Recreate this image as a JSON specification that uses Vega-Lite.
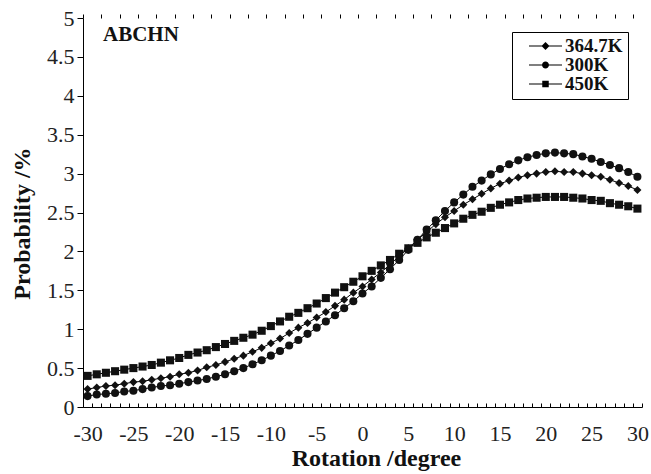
{
  "$schema": "https://vega.github.io/schema/vega-lite/v6.json",
  "width": 559,
  "height": 389,
  "autosize": {"type": "none"},
  "padding": {"left": 83, "top": 18, "right": 9, "bottom": 67},
  "background": "white",
  "title": {
    "text": "ABCHN",
    "anchor": "start",
    "frame": "group",
    "offset": 0,
    "dx": 20,
    "dy": 55,
    "baseline": "alphabetic",
    "font": "Liberation Serif",
    "fontSize": 21,
    "fontWeight": "bold",
    "color": "#111"
  },
  "config": {
    "font": "Liberation Serif",
    "view": {"stroke": null},
    "axis": {"grid": false}
  },
  "data": {
    "values": [
      {"deg": -30, "series": "364.7K", "p": 0.23}, {"deg": -29, "series": "364.7K", "p": 0.25}, {"deg": -28, "series": "364.7K", "p": 0.27}, {"deg": -27, "series": "364.7K", "p": 0.28}, {"deg": -26, "series": "364.7K", "p": 0.30}, {"deg": -25, "series": "364.7K", "p": 0.32}, {"deg": -24, "series": "364.7K", "p": 0.33}, {"deg": -23, "series": "364.7K", "p": 0.35}, {"deg": -22, "series": "364.7K", "p": 0.37}, {"deg": -21, "series": "364.7K", "p": 0.39}, {"deg": -20, "series": "364.7K", "p": 0.42}, {"deg": -19, "series": "364.7K", "p": 0.44}, {"deg": -18, "series": "364.7K", "p": 0.47}, {"deg": -17, "series": "364.7K", "p": 0.51}, {"deg": -16, "series": "364.7K", "p": 0.54}, {"deg": -15, "series": "364.7K", "p": 0.58}, {"deg": -14, "series": "364.7K", "p": 0.62}, {"deg": -13, "series": "364.7K", "p": 0.66}, {"deg": -12, "series": "364.7K", "p": 0.71}, {"deg": -11, "series": "364.7K", "p": 0.76}, {"deg": -10, "series": "364.7K", "p": 0.82}, {"deg": -9, "series": "364.7K", "p": 0.88}, {"deg": -8, "series": "364.7K", "p": 0.95}, {"deg": -7, "series": "364.7K", "p": 1.02}, {"deg": -6, "series": "364.7K", "p": 1.08}, {"deg": -5, "series": "364.7K", "p": 1.15}, {"deg": -4, "series": "364.7K", "p": 1.22}, {"deg": -3, "series": "364.7K", "p": 1.30}, {"deg": -2, "series": "364.7K", "p": 1.38}, {"deg": -1, "series": "364.7K", "p": 1.47}, {"deg": 0, "series": "364.7K", "p": 1.55}, {"deg": 1, "series": "364.7K", "p": 1.64}, {"deg": 2, "series": "364.7K", "p": 1.73}, {"deg": 3, "series": "364.7K", "p": 1.83}, {"deg": 4, "series": "364.7K", "p": 1.94}, {"deg": 5, "series": "364.7K", "p": 2.04}, {"deg": 6, "series": "364.7K", "p": 2.15}, {"deg": 7, "series": "364.7K", "p": 2.25}, {"deg": 8, "series": "364.7K", "p": 2.35}, {"deg": 9, "series": "364.7K", "p": 2.44}, {"deg": 10, "series": "364.7K", "p": 2.52}, {"deg": 11, "series": "364.7K", "p": 2.60}, {"deg": 12, "series": "364.7K", "p": 2.67}, {"deg": 13, "series": "364.7K", "p": 2.74}, {"deg": 14, "series": "364.7K", "p": 2.81}, {"deg": 15, "series": "364.7K", "p": 2.87}, {"deg": 16, "series": "364.7K", "p": 2.91}, {"deg": 17, "series": "364.7K", "p": 2.95}, {"deg": 18, "series": "364.7K", "p": 2.98}, {"deg": 19, "series": "364.7K", "p": 3.00}, {"deg": 20, "series": "364.7K", "p": 3.02}, {"deg": 21, "series": "364.7K", "p": 3.03}, {"deg": 22, "series": "364.7K", "p": 3.02}, {"deg": 23, "series": "364.7K", "p": 3.02}, {"deg": 24, "series": "364.7K", "p": 3.00}, {"deg": 25, "series": "364.7K", "p": 2.98}, {"deg": 26, "series": "364.7K", "p": 2.96}, {"deg": 27, "series": "364.7K", "p": 2.92}, {"deg": 28, "series": "364.7K", "p": 2.88}, {"deg": 29, "series": "364.7K", "p": 2.84}, {"deg": 30, "series": "364.7K", "p": 2.79},
      {"deg": -30, "series": "300K", "p": 0.14}, {"deg": -29, "series": "300K", "p": 0.16}, {"deg": -28, "series": "300K", "p": 0.17}, {"deg": -27, "series": "300K", "p": 0.18}, {"deg": -26, "series": "300K", "p": 0.20}, {"deg": -25, "series": "300K", "p": 0.21}, {"deg": -24, "series": "300K", "p": 0.23}, {"deg": -23, "series": "300K", "p": 0.25}, {"deg": -22, "series": "300K", "p": 0.27}, {"deg": -21, "series": "300K", "p": 0.28}, {"deg": -20, "series": "300K", "p": 0.30}, {"deg": -19, "series": "300K", "p": 0.32}, {"deg": -18, "series": "300K", "p": 0.34}, {"deg": -17, "series": "300K", "p": 0.36}, {"deg": -16, "series": "300K", "p": 0.39}, {"deg": -15, "series": "300K", "p": 0.42}, {"deg": -14, "series": "300K", "p": 0.46}, {"deg": -13, "series": "300K", "p": 0.50}, {"deg": -12, "series": "300K", "p": 0.55}, {"deg": -11, "series": "300K", "p": 0.60}, {"deg": -10, "series": "300K", "p": 0.66}, {"deg": -9, "series": "300K", "p": 0.72}, {"deg": -8, "series": "300K", "p": 0.79}, {"deg": -7, "series": "300K", "p": 0.86}, {"deg": -6, "series": "300K", "p": 0.94}, {"deg": -5, "series": "300K", "p": 1.02}, {"deg": -4, "series": "300K", "p": 1.10}, {"deg": -3, "series": "300K", "p": 1.18}, {"deg": -2, "series": "300K", "p": 1.27}, {"deg": -1, "series": "300K", "p": 1.36}, {"deg": 0, "series": "300K", "p": 1.46}, {"deg": 1, "series": "300K", "p": 1.55}, {"deg": 2, "series": "300K", "p": 1.66}, {"deg": 3, "series": "300K", "p": 1.77}, {"deg": 4, "series": "300K", "p": 1.89}, {"deg": 5, "series": "300K", "p": 2.02}, {"deg": 6, "series": "300K", "p": 2.15}, {"deg": 7, "series": "300K", "p": 2.28}, {"deg": 8, "series": "300K", "p": 2.40}, {"deg": 9, "series": "300K", "p": 2.52}, {"deg": 10, "series": "300K", "p": 2.63}, {"deg": 11, "series": "300K", "p": 2.73}, {"deg": 12, "series": "300K", "p": 2.83}, {"deg": 13, "series": "300K", "p": 2.91}, {"deg": 14, "series": "300K", "p": 2.99}, {"deg": 15, "series": "300K", "p": 3.06}, {"deg": 16, "series": "300K", "p": 3.12}, {"deg": 17, "series": "300K", "p": 3.17}, {"deg": 18, "series": "300K", "p": 3.21}, {"deg": 19, "series": "300K", "p": 3.24}, {"deg": 20, "series": "300K", "p": 3.26}, {"deg": 21, "series": "300K", "p": 3.27}, {"deg": 22, "series": "300K", "p": 3.26}, {"deg": 23, "series": "300K", "p": 3.25}, {"deg": 24, "series": "300K", "p": 3.22}, {"deg": 25, "series": "300K", "p": 3.19}, {"deg": 26, "series": "300K", "p": 3.15}, {"deg": 27, "series": "300K", "p": 3.11}, {"deg": 28, "series": "300K", "p": 3.07}, {"deg": 29, "series": "300K", "p": 3.02}, {"deg": 30, "series": "300K", "p": 2.96},
      {"deg": -30, "series": "450K", "p": 0.40}, {"deg": -29, "series": "450K", "p": 0.42}, {"deg": -28, "series": "450K", "p": 0.44}, {"deg": -27, "series": "450K", "p": 0.46}, {"deg": -26, "series": "450K", "p": 0.48}, {"deg": -25, "series": "450K", "p": 0.50}, {"deg": -24, "series": "450K", "p": 0.52}, {"deg": -23, "series": "450K", "p": 0.54}, {"deg": -22, "series": "450K", "p": 0.57}, {"deg": -21, "series": "450K", "p": 0.60}, {"deg": -20, "series": "450K", "p": 0.63}, {"deg": -19, "series": "450K", "p": 0.67}, {"deg": -18, "series": "450K", "p": 0.70}, {"deg": -17, "series": "450K", "p": 0.73}, {"deg": -16, "series": "450K", "p": 0.77}, {"deg": -15, "series": "450K", "p": 0.81}, {"deg": -14, "series": "450K", "p": 0.85}, {"deg": -13, "series": "450K", "p": 0.89}, {"deg": -12, "series": "450K", "p": 0.93}, {"deg": -11, "series": "450K", "p": 0.98}, {"deg": -10, "series": "450K", "p": 1.04}, {"deg": -9, "series": "450K", "p": 1.10}, {"deg": -8, "series": "450K", "p": 1.16}, {"deg": -7, "series": "450K", "p": 1.21}, {"deg": -6, "series": "450K", "p": 1.27}, {"deg": -5, "series": "450K", "p": 1.33}, {"deg": -4, "series": "450K", "p": 1.40}, {"deg": -3, "series": "450K", "p": 1.47}, {"deg": -2, "series": "450K", "p": 1.54}, {"deg": -1, "series": "450K", "p": 1.61}, {"deg": 0, "series": "450K", "p": 1.68}, {"deg": 1, "series": "450K", "p": 1.75}, {"deg": 2, "series": "450K", "p": 1.82}, {"deg": 3, "series": "450K", "p": 1.89}, {"deg": 4, "series": "450K", "p": 1.97}, {"deg": 5, "series": "450K", "p": 2.04}, {"deg": 6, "series": "450K", "p": 2.11}, {"deg": 7, "series": "450K", "p": 2.18}, {"deg": 8, "series": "450K", "p": 2.24}, {"deg": 9, "series": "450K", "p": 2.30}, {"deg": 10, "series": "450K", "p": 2.36}, {"deg": 11, "series": "450K", "p": 2.42}, {"deg": 12, "series": "450K", "p": 2.47}, {"deg": 13, "series": "450K", "p": 2.51}, {"deg": 14, "series": "450K", "p": 2.56}, {"deg": 15, "series": "450K", "p": 2.60}, {"deg": 16, "series": "450K", "p": 2.63}, {"deg": 17, "series": "450K", "p": 2.66}, {"deg": 18, "series": "450K", "p": 2.68}, {"deg": 19, "series": "450K", "p": 2.69}, {"deg": 20, "series": "450K", "p": 2.70}, {"deg": 21, "series": "450K", "p": 2.70}, {"deg": 22, "series": "450K", "p": 2.70}, {"deg": 23, "series": "450K", "p": 2.69}, {"deg": 24, "series": "450K", "p": 2.68}, {"deg": 25, "series": "450K", "p": 2.66}, {"deg": 26, "series": "450K", "p": 2.65}, {"deg": 27, "series": "450K", "p": 2.62}, {"deg": 28, "series": "450K", "p": 2.60}, {"deg": 29, "series": "450K", "p": 2.58}, {"deg": 30, "series": "450K", "p": 2.55}
    ]
  },
  "encoding": {
    "y": {
      "field": "p",
      "type": "quantitative",
      "scale": {"domain": [0, 5], "nice": false, "zero": true},
      "axis": {
        "values": [0, 0.5, 1, 1.5, 2, 2.5, 3, 3.5, 4, 4.5, 5],
        "format": ".1~f",
        "title": "Probability /%",
        "titleFontSize": 24,
        "titleFontWeight": "bold",
        "titleColor": "#111",
        "titlePadding": 12,
        "titleY": 205,
        "titleAlign": "center",
        "labelFontSize": 22,
        "labelColor": "#222",
        "labelPadding": 3,
        "tickSize": 6,
        "tickColor": "black",
        "domainColor": "black",
        "labelFlush": false
      }
    }
  },
  "layer": [
    {
      "mark": {"type": "line", "color": "black", "strokeWidth": 1},
      "encoding": {
        "x": {
          "field": "deg",
          "type": "quantitative",
          "scale": {"domain": [-30.5, 30.5], "nice": false, "zero": false},
          "axis": {
            "values": [-30.5, -29.5, -28.5, -27.5, -26.5, -25.5, -24.5, -23.5, -22.5, -21.5, -20.5, -19.5, -18.5, -17.5, -16.5, -15.5, -14.5, -13.5, -12.5, -11.5, -10.5, -9.5, -8.5, -7.5, -6.5, -5.5, -4.5, -3.5, -2.5, -1.5, -0.5, 0.5, 1.5, 2.5, 3.5, 4.5, 5.5, 6.5, 7.5, 8.5, 9.5, 10.5, 11.5, 12.5, 13.5, 14.5, 15.5, 16.5, 17.5, 18.5, 19.5, 20.5, 21.5, 22.5, 23.5, 24.5, 25.5, 26.5, 27.5, 28.5, 29.5, 30.5],
            "labelExpr": "(datum.value + 0.5) % 5 == 0 ? '' + (datum.value + 0.5) : ''",
            "labelOffset": 4.58,
            "labelOverlap": false,
            "labelFlush": false,
            "labelBound": false,
            "labelFontSize": 22,
            "labelColor": "#222",
            "labelPadding": 20,
            "tickSize": -4,
            "tickColor": "black",
            "domainColor": "black",
            "title": "Rotation /degree",
            "titleFontSize": 24,
            "titleFontWeight": "bold",
            "titleColor": "#111",
            "titlePadding": 2,
            "titleX": 293,
            "titleAlign": "center"
          }
        },
        "detail": {"field": "series"}
      }
    },
    {
      "mark": {"type": "point", "filled": true, "color": "#111", "size": 65, "opacity": 1},
      "encoding": {
        "x": {
          "field": "deg",
          "type": "quantitative",
          "scale": {"domain": [-30.5, 30.5], "nice": false, "zero": false},
          "axis": {
            "values": [-30.5, -28.5, -26.5, -24.5, -22.5, -20.5, -18.5, -16.5, -14.5, -12.5, -10.5, -8.5, -6.5, -4.5, -2.5, -0.5, 1.5, 3.5, 5.5, 7.5, 9.5, 11.5, 13.5, 15.5, 17.5, 19.5, 21.5, 23.5, 25.5, 27.5, 29.5],
            "labels": false,
            "domain": false,
            "title": null,
            "tickSize": 4,
            "tickColor": "black"
          }
        },
        "shape": {
          "field": "series",
          "type": "nominal",
          "scale": {"domain": ["364.7K", "300K", "450K"], "range": ["diamond", "circle", "square"]},
          "legend": null
        }
      }
    },
    {
      "transform": [{"filter": "false"}],
      "mark": {"type": "point", "filled": true, "color": "black", "opacity": 1},
      "encoding": {
        "x": {
          "field": "deg",
          "type": "quantitative",
          "scale": {"domain": [-30.5, 30.5], "nice": false, "zero": false},
          "axis": null
        },
        "shape": {
          "field": "series",
          "type": "nominal",
          "scale": {
            "domain": ["364.7K", "300K", "450K"],
            "range": [
              "M-3.3,-0.1H3.3V0.1H-3.3Z M0,-0.8L0.8,0L0,0.8L-0.8,0Z",
              "M-3.3,-0.1H3.3V0.1H-3.3Z M0.7,0A0.7,0.7,0,1,1,-0.7,0A0.7,0.7,0,1,1,0.7,0Z",
              "M-3.3,-0.1H3.3V0.1H-3.3Z M-0.65,-0.65H0.65V0.65H-0.65Z"
            ]
          },
          "legend": {
            "orient": "none",
            "legendX": 429,
            "legendY": 14,
            "title": null,
            "strokeColor": "black",
            "fillColor": "white",
            "padding": 5,
            "labelFont": "Liberation Serif",
            "labelFontSize": 19,
            "labelFontWeight": "bold",
            "labelColor": "#111",
            "labelOffset": 10,
            "symbolOffset": 19,
            "symbolSize": 100,
            "clipHeight": 18,
            "rowPadding": -1,
            "symbolFillColor": "black",
            "symbolStrokeWidth": 0
          }
        }
      }
    }
  ],
  "resolve": {"axis": {"x": "independent"}, "scale": {"shape": "independent"}}
}
